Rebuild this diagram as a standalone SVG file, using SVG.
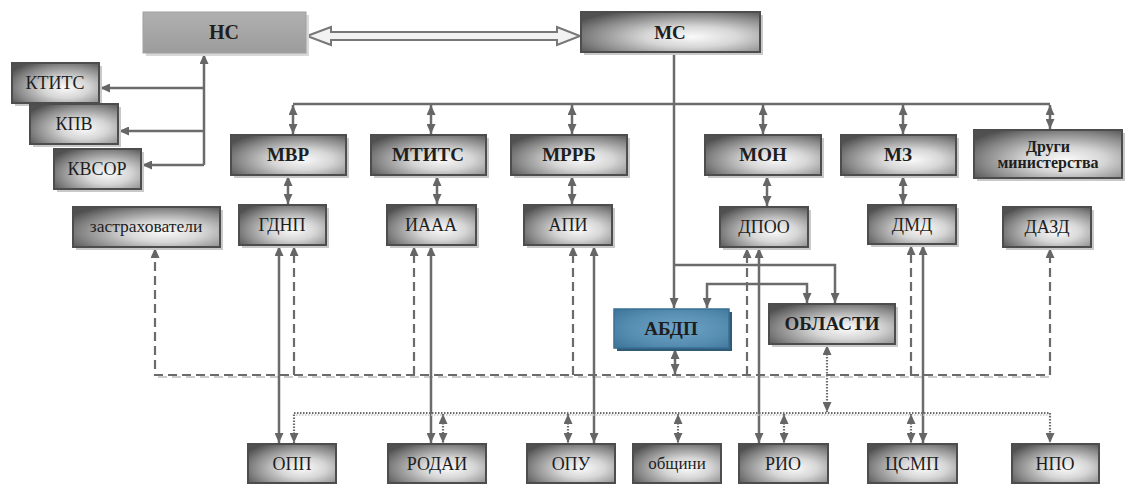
<svg xmlns="http://www.w3.org/2000/svg" width="1125" height="484" viewBox="0 0 1125 484" font-family="'Liberation Serif', 'Times New Roman', 'DejaVu Serif', serif">
<style>
.box{stroke:#4d4d4d;stroke-width:2;fill:url(#g)}
.sh{fill:#c9c9c9}
text{font-family:'Liberation Serif','Times New Roman','DejaVu Serif',serif}
.t{font-size:18px;fill:#1e1e1e;text-anchor:middle}
.b{font-weight:bold;font-size:19px}
.ln{fill:none;stroke:#6b6b6b;stroke-width:2.5}
.da{fill:none;stroke:#6b6b6b;stroke-width:2.2;stroke-dasharray:9 5}
.dt{fill:none;stroke:#6b6b6b;stroke-width:2.2;stroke-dasharray:1.5 1.5}
.dash2{fill:none;stroke:#bdbdbd;stroke-width:1.5;stroke-dasharray:9 5}
.dot2{fill:none;stroke:#c4c4c4;stroke-width:1.5;stroke-dasharray:1.5 1.5}
</style>
<defs>
<radialGradient id="g" cx="0.62" cy="0.62" r="0.75" fx="0.62" fy="0.62">
<stop offset="0" stop-color="#fafafa"/>
<stop offset="0.35" stop-color="#d6d6d6"/>
<stop offset="0.75" stop-color="#878787"/>
<stop offset="1" stop-color="#505050"/>
</radialGradient>
<radialGradient id="gb" cx="0.55" cy="0.5" r="0.75">
<stop offset="0" stop-color="#6fa3c4"/>
<stop offset="0.6" stop-color="#548cb0"/>
<stop offset="1" stop-color="#3b7296"/>
</radialGradient>
<linearGradient id="gg" x1="0" y1="0" x2="0" y2="1">
<stop offset="0" stop-color="#b0b0b0"/>
<stop offset="1" stop-color="#9c9c9c"/>
</linearGradient>
<marker id="a" viewBox="0 0 10 9" refX="10" refY="4.5" markerWidth="10" markerHeight="9" markerUnits="userSpaceOnUse" orient="auto-start-reverse">
<path d="M0,0 L10,4.5 L0,9 z" fill="#666"/>
</marker>
</defs>
<rect width="1125" height="484" fill="#fff"/>

<g id="connectors">
<polygon points="307,36 331,27 331,32 557,32 557,27 580,36 557,45 557,40 331,40 331,45" fill="#f2f2f2" stroke="#777" stroke-width="2"/>
<path class="ln" d="M204,165 V54" marker-end="url(#a)"/>
<path class="ln" d="M204,88 H100" marker-end="url(#a)"/>
<path class="ln" d="M204,131 H119" marker-end="url(#a)"/>
<path class="ln" d="M204,165 H142" marker-end="url(#a)"/>
<path class="ln" d="M293,104 H1050"/>
<path class="ln" d="M293,105 V134" marker-start="url(#a)" marker-end="url(#a)"/>
<path class="ln" d="M431,105 V134" marker-start="url(#a)" marker-end="url(#a)"/>
<path class="ln" d="M572,105 V134" marker-start="url(#a)" marker-end="url(#a)"/>
<path class="ln" d="M763,105 V134" marker-start="url(#a)" marker-end="url(#a)"/>
<path class="ln" d="M903,105 V134" marker-start="url(#a)" marker-end="url(#a)"/>
<path class="ln" d="M1050,105 V129" marker-start="url(#a)" marker-end="url(#a)"/>
<path class="ln" d="M288,176 V204" marker-start="url(#a)" marker-end="url(#a)"/>
<path class="ln" d="M437,176 V204" marker-start="url(#a)" marker-end="url(#a)"/>
<path class="ln" d="M572,176 V204" marker-start="url(#a)" marker-end="url(#a)"/>
<path class="ln" d="M767,176 V206" marker-start="url(#a)" marker-end="url(#a)"/>
<path class="ln" d="M903,176 V204" marker-start="url(#a)" marker-end="url(#a)"/>
<path class="ln" d="M674,53 V308" marker-end="url(#a)"/>
<path class="ln" d="M674,265 H835 V303" marker-end="url(#a)"/>
<path class="ln" d="M707,308 V284 H807 V303" marker-start="url(#a)" marker-end="url(#a)"/>
<path class="dash2" d="M158,377 H1053"/>
<path class="da" d="M155,248 V375 H1050 V248" marker-start="url(#a)" marker-end="url(#a)"/>
<path class="da" d="M294,375 V246" marker-end="url(#a)"/>
<path class="da" d="M414,375 V246" marker-end="url(#a)"/>
<path class="da" d="M573,375 V246" marker-end="url(#a)"/>
<path class="da" d="M747,375 V248" marker-end="url(#a)"/>
<path class="da" d="M911,375 V245" marker-end="url(#a)"/>
<path class="ln" d="M675,349 V374" marker-start="url(#a)" marker-end="url(#a)"/>
<path class="ln" d="M279,246 V443" marker-start="url(#a)" marker-end="url(#a)"/>
<path class="ln" d="M431,246 V443" marker-start="url(#a)" marker-end="url(#a)"/>
<path class="ln" d="M594,246 V443" marker-start="url(#a)" marker-end="url(#a)"/>
<path class="ln" d="M759,248 V443" marker-start="url(#a)" marker-end="url(#a)"/>
<path class="ln" d="M923,245 V443" marker-start="url(#a)" marker-end="url(#a)"/>
<path class="dot2" d="M296,415 H1052"/>
<path class="dt" d="M294,443 V413 H1050 V443" marker-start="url(#a)" marker-end="url(#a)"/>
<path class="dt" d="M827,345 V412" marker-start="url(#a)" marker-end="url(#a)"/>
<path class="dt" d="M443,414 V443" marker-start="url(#a)" marker-end="url(#a)"/>
<path class="dt" d="M568,414 V443" marker-start="url(#a)" marker-end="url(#a)"/>
<path class="dt" d="M678,414 V443" marker-start="url(#a)" marker-end="url(#a)"/>
<path class="dt" d="M784,414 V443" marker-start="url(#a)" marker-end="url(#a)"/>
<path class="dt" d="M911,414 V443" marker-start="url(#a)" marker-end="url(#a)"/>
</g>

<g id="n-NS"><rect x="146" y="15" width="163" height="41" fill="#d8d8d8"/><rect x="143" y="12" width="163" height="41" fill="url(#gg)" stroke="#a0a0a0" stroke-width="1"/><text class="t b" x="224" y="39" style="font-size:20px">НС</text></g>
<g id="n-MS"><rect class="sh" x="584" y="15" width="179" height="40"/><rect class="box" x="581" y="12" width="179" height="40"/><text class="t b" x="670" y="39">МС</text></g>
<g id="n-KTITS"><rect class="sh" x="15" y="66" width="87" height="40"/><rect class="box" x="12" y="63" width="87" height="40"/><text class="t" x="55" y="89">КТИТС</text></g>
<g id="n-KPV"><rect class="sh" x="33" y="107" width="88" height="40"/><rect class="box" x="30" y="104" width="88" height="40"/><text class="t" x="74" y="130">КПВ</text></g>
<g id="n-KVSOR"><rect class="sh" x="57" y="152" width="87" height="40"/><rect class="box" x="54" y="149" width="87" height="40"/><text class="t" x="97" y="175">КВСОР</text></g>

<g id="n-MVR"><rect class="sh" x="234" y="138" width="115" height="40"/><rect class="box" x="231" y="135" width="115" height="40"/><text class="t b" x="288" y="161">МВР</text></g>
<g id="n-MTITS"><rect class="sh" x="374" y="138" width="115" height="40"/><rect class="box" x="371" y="135" width="115" height="40"/><text class="t b" x="428" y="161">МТИТС</text></g>
<g id="n-MRRB"><rect class="sh" x="514" y="138" width="116" height="40"/><rect class="box" x="511" y="135" width="116" height="40"/><text class="t b" x="569" y="161">МРРБ</text></g>
<g id="n-MON"><rect class="sh" x="708" y="138" width="116" height="40"/><rect class="box" x="705" y="135" width="116" height="40"/><text class="t b" x="763" y="161">МОН</text></g>
<g id="n-MZ"><rect class="sh" x="844" y="138" width="115" height="40"/><rect class="box" x="841" y="135" width="115" height="40"/><text class="t b" x="898" y="161">МЗ</text></g>
<g id="n-drugi"><rect class="sh" x="977" y="133" width="148" height="48"/><rect class="box" x="974" y="130" width="148" height="48"/><text class="t b" x="1048" y="152" style="font-size:16px">Други</text><text class="t b" x="1048" y="168" style="font-size:16px">министерства</text></g>

<g id="n-zastr"><rect class="sh" x="76" y="210" width="147" height="40"/><rect class="box" x="73" y="207" width="147" height="40"/><text class="t" x="146" y="232" style="font-size:17.5px">застрахователи</text></g>
<g id="n-GDNP"><rect class="sh" x="242" y="208" width="87" height="40"/><rect class="box" x="239" y="205" width="87" height="40"/><text class="t" x="282" y="231">ГДНП</text></g>
<g id="n-IAAA"><rect class="sh" x="390" y="208" width="89" height="40"/><rect class="box" x="387" y="205" width="89" height="40"/><text class="t" x="431" y="231">ИААА</text></g>
<g id="n-API"><rect class="sh" x="527" y="208" width="88" height="40"/><rect class="box" x="524" y="205" width="88" height="40"/><text class="t" x="568" y="231">АПИ</text></g>
<g id="n-DPOO"><rect class="sh" x="723" y="210" width="88" height="40"/><rect class="box" x="720" y="207" width="88" height="40"/><text class="t" x="764" y="233">ДПОО</text></g>
<g id="n-DMD"><rect class="sh" x="871" y="208" width="88" height="39"/><rect class="box" x="868" y="205" width="88" height="39"/><text class="t" x="912" y="231">ДМД</text></g>
<g id="n-DAZD"><rect class="sh" x="1006" y="210" width="88" height="40"/><rect class="box" x="1003" y="207" width="88" height="40"/><text class="t" x="1047" y="233">ДАЗД</text></g>

<g id="n-ABDP"><rect x="617" y="312" width="115" height="39" fill="#2f5a78"/><rect x="614" y="309" width="115" height="39" fill="url(#gb)" stroke="#3a6f92" stroke-width="1.5"/><text class="t b" x="671" y="335">АБДП</text></g>
<g id="n-oblasti"><rect class="sh" x="772" y="307" width="126" height="40"/><rect class="box" x="769" y="304" width="126" height="40"/><text class="t b" x="832" y="330">ОБЛАСТИ</text></g>

<g id="n-OPP"><rect class="box" x="248" y="444" width="88" height="39"/><text class="t" x="292" y="470">ОПП</text></g>
<g id="n-RODAI"><rect class="box" x="388" y="444" width="98" height="39"/><text class="t" x="437" y="470">РОДАИ</text></g>
<g id="n-OPU"><rect class="box" x="527" y="444" width="88" height="39"/><text class="t" x="571" y="470">ОПУ</text></g>
<g id="n-obshtini"><rect class="box" x="633" y="444" width="88" height="39"/><text class="t" x="677" y="469" style="font-size:17px">общини</text></g>
<g id="n-RIO"><rect class="box" x="739" y="444" width="89" height="39"/><text class="t" x="783" y="470">РИО</text></g>
<g id="n-TSMP"><rect class="box" x="868" y="444" width="89" height="39"/><text class="t" x="912" y="470">ЦСМП</text></g>
<g id="n-NPO"><rect class="box" x="1012" y="444" width="87" height="39"/><text class="t" x="1055" y="470">НПО</text></g>
</svg>
